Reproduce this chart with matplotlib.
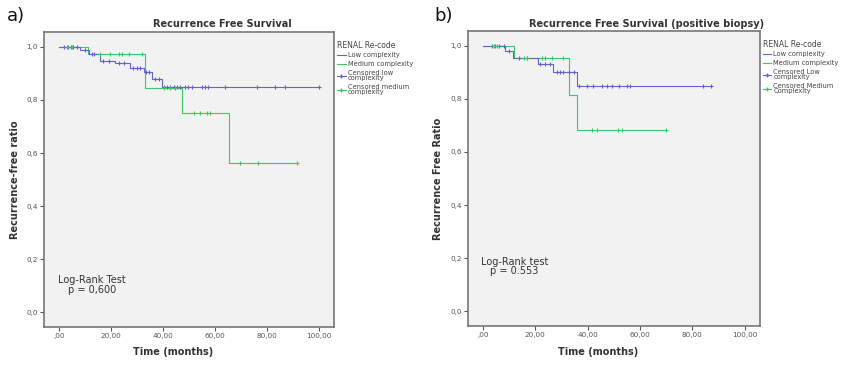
import numpy as np
import matplotlib
matplotlib.use("Agg")
import matplotlib.pyplot as plt
from matplotlib.lines import Line2D

# ---------------- data ----------------
# Panel a) Recurrence Free Survival
low_a_times = [0, 8.2, 11.4, 15.9, 21.6, 27.4, 32.5, 35.7, 39.5, 100.0]
low_a_surv = [1.0, 0.987, 0.971, 0.948, 0.937, 0.921, 0.904, 0.879, 0.849, 0.849]
low_a_cens = [2, 3.5, 4.5, 5.5, 7, 10, 12.5, 13.5, 17, 19, 23, 25, 28.5, 30, 31,
              33.5, 34.5, 37, 38.5, 40.2, 41.4, 42.7, 44, 45.3, 46.5, 48.4, 49.7,
              51, 54.8, 56.1, 57.4, 63.8, 76, 83, 86.8, 100]

med_a_times = [0, 11.2, 33.1, 47.2, 65.5, 91.3]
med_a_surv = [1.0, 0.971, 0.845, 0.751, 0.562, 0.562]
med_a_cens = [3, 5, 15.9, 19.7, 22.9, 24.2, 26.7, 31.8, 40.5, 42.5, 44.5,
              51.7, 54.2, 56.8, 58, 69.6, 76.6, 91.3]

# Panel b) Recurrence Free Survival (positive biopsy)
low_b_times = [0, 8.5, 11.5, 21.2, 26.9, 35.8, 87.3]
low_b_surv = [1.0, 0.981, 0.954, 0.931, 0.900, 0.847, 0.847]
low_b_cens = [3.4, 4.7, 6, 7.9, 9.8, 13.6, 16.8, 21.9, 23.8, 25.7, 28.2, 29.5,
              30.7, 32.7, 34.6, 36.8, 39.6, 41.9, 45.4, 47.3, 49.2, 52.1, 54.9,
              56.2, 83.9, 87.3]

med_b_times = [0, 11.7, 32.7, 35.8, 69.9]
med_b_surv = [1.0, 0.954, 0.815, 0.682, 0.682]
med_b_cens = [4.1, 5.3, 15.5, 16.8, 22.5, 23.8, 26.3, 30.7, 41.5, 43.5, 51.7,
              53, 69.9]

xticks = [0, 20, 40, 60, 80, 100]
xtick_labels = [",00", "20,00", "40,00", "60,00", "80,00", "100,00"]
yticks = [0.0, 0.2, 0.4, 0.6, 0.8, 1.0]
ytick_labels = ["0,0", "0,2", "0,4", "0,6", "0,8", "1,0"]

BLUE = "#6464c8"
GREEN = "#3cc862"
BG = "#f2f2f2"
TXT = "#333333"

fig = plt.figure(figsize=(8.49, 3.65), dpi=100)
fig.patch.set_facecolor("white")


def surv_at(times, surv, t):
    idx = np.searchsorted(np.asarray(times), t, side="right") - 1
    idx = np.clip(idx, 0, len(surv) - 1)
    return np.asarray(surv)[idx]


def panel(rect, title, title_x, ylabel, ylabel_x, pval_text, pval_pos,
          lt, ls, lc, mt, ms, mc, legend_labels, letter, letter_x):
    ax = fig.add_axes(rect)
    ax.set_facecolor(BG)
    ax.step(lt, ls, where="post", color=BLUE, lw=0.8, zorder=3)
    ax.step(mt, ms, where="post", color=GREEN, lw=0.8, zorder=2)
    ax.plot(lc, surv_at(lt, ls, lc), ls="none", marker="+", ms=3.5,
            mew=0.8, color=BLUE, zorder=4)
    ax.plot(mc, surv_at(mt, ms, mc), ls="none", marker="+", ms=3.5,
            mew=0.8, color=GREEN, zorder=4)
    ax.set_xlim(-5.8, 105.8)
    ax.set_ylim(-0.055, 1.055)
    ax.set_xticks(xticks)
    ax.set_xticklabels(xtick_labels)
    ax.set_yticks(yticks)
    ax.set_yticklabels(ytick_labels)
    ax.tick_params(labelsize=5.2, colors="#555555", length=3, width=0.8, pad=1.5)
    for sp in ax.spines.values():
        sp.set_color("#777777")
        sp.set_linewidth(1.2)
    ax.text(pval_pos[0], pval_pos[1], pval_text, transform=ax.transAxes,
            fontsize=7, color=TXT, ha="center", va="top", linespacing=0.95)
    # titles / labels
    x0, y0, w, h = rect
    fig.text(title_x, 0.935, title, fontsize=7, fontweight="bold",
             color=TXT, ha="center", va="center")
    fig.text(ylabel_x, y0 + h / 2, ylabel, fontsize=7, fontweight="bold",
             color=TXT, rotation=90, ha="center", va="center")
    fig.text(x0 + w * 0.445, 0.036, "Time (months)", fontsize=7,
             fontweight="bold", color=TXT, ha="center", va="center")
    fig.text(letter_x, 0.955, letter, fontsize=13, color="#111111",
             ha="left", va="center")
    handles = [Line2D([], [], color=BLUE, lw=0.8),
               Line2D([], [], color=GREEN, lw=0.8),
               Line2D([], [], color=BLUE, lw=0.8, marker="+", ms=3.5),
               Line2D([], [], color=GREEN, lw=0.8, marker="+", ms=3.5)]
    leg = ax.legend(handles, legend_labels, title="RENAL Re-code",
                    loc="upper left", bbox_to_anchor=(1.005, 0.975),
                    frameon=False, fontsize=4.8, title_fontsize=5.5,
                    handlelength=1.3, handletextpad=0.3, labelspacing=0.4,
                    borderaxespad=0.0, borderpad=0.2)
    for t in leg.get_texts():
        t.set_color("#444444")
        t.set_linespacing(0.9)
    leg.get_title().set_color("#444444")
    leg._legend_box.align = "left"
    return ax


panel([0.0518, 0.104, 0.342, 0.808], "Recurrence Free Survival", 0.262,
      "Recurrence-free ratio", 0.018, "Log-Rank Test\np = 0,600", (0.165, 0.175),
      low_a_times, low_a_surv, low_a_cens, med_a_times, med_a_surv, med_a_cens,
      ["Low complexity", "Medium complexity", "Censored low\ncomplexity",
       "Censored medium\ncomplexity"], "a)", 0.008)

panel([0.551, 0.107, 0.344, 0.808], "Recurrence Free Survival (positive biopsy)",
      0.762, "Recurrence Free Ratio", 0.516, "Log-Rank test\np = 0.553",
      (0.16, 0.235),
      low_b_times, low_b_surv, low_b_cens, med_b_times, med_b_surv, med_b_cens,
      ["Low complexity", "Medium complexity", "Censored Low\ncomplexity",
       "Censored Medium\nComplexity"], "b)", 0.512)

fig.savefig("out.png", dpi=100, facecolor="white")
